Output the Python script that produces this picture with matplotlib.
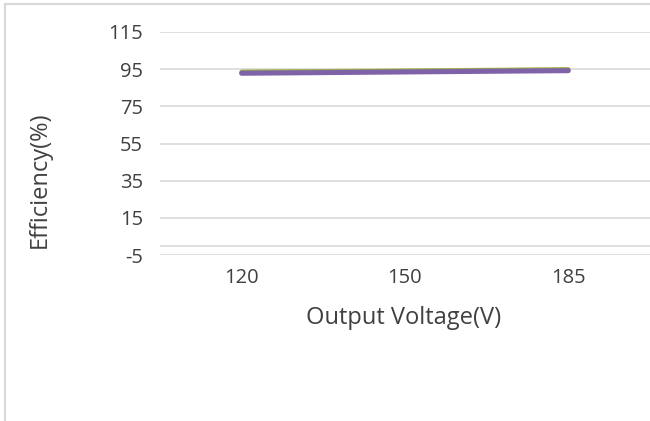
import numpy as np
import matplotlib.pyplot as plt
from matplotlib.patches import Rectangle

plt.rcParams['font.family'] = ['Open Sans', 'DejaVu Sans']
plt.rcParams['axes.unicode_minus'] = False

voltage = ['120', '150', '185']
eff_green = [93.5, 94.1, 94.8]
eff_yellow = [93.7, 94.3, 95.0]
eff_purple = [92.8, 93.5, 94.2]
yticks = [-5, 15, 35, 55, 75, 95, 115]

fig = plt.figure(figsize=(6.5, 4.21), dpi=100)
ax = fig.add_axes([0.246, 0.394, 0.754, 0.530])

x = np.arange(len(voltage))
ax.plot(x, eff_yellow, color='#c8c050', lw=3, solid_capstyle='round')
ax.plot(x, eff_green, color='#8aa85a', lw=3, solid_capstyle='round')
ax.plot(x, eff_purple, color='#7f62a8', lw=3.6, solid_capstyle='round')

ax.set_xlim(-0.5, 2.5)
ax.set_ylim(-5, 115)
ax.set_yticks(yticks)
ax.set_xticks(x)
ax.set_xticklabels(voltage)
ax.grid(axis='y', color='#d9d9d9', lw=1.2)
ax.axhline(0, color='#d9d9d9', lw=1.2)
ax.set_axisbelow(True)
for s in ax.spines.values():
    s.set_visible(False)
ax.tick_params(length=0, labelsize=14.5, colors='#404040')
ax.tick_params(axis='y', pad=12)
ax.tick_params(axis='x', pad=9)
ax.set_xlabel('Output Voltage(V)', fontsize=17, color='#404040', va='center')
ax.set_ylabel('Efficiency(%)', fontsize=17, color='#404040', va='center', ha='center')
ax.xaxis.set_label_coords(0.498, -0.283)
ax.yaxis.set_label_coords(-0.245, 0.336)

fig.patches.append(Rectangle((5 / 650, -0.1), 1.2, 1 - 4 / 421 + 0.1,
                             transform=fig.transFigure, fill=False,
                             edgecolor='#d9d9d9', lw=1.5))

fig.savefig('out.png', dpi=100)
